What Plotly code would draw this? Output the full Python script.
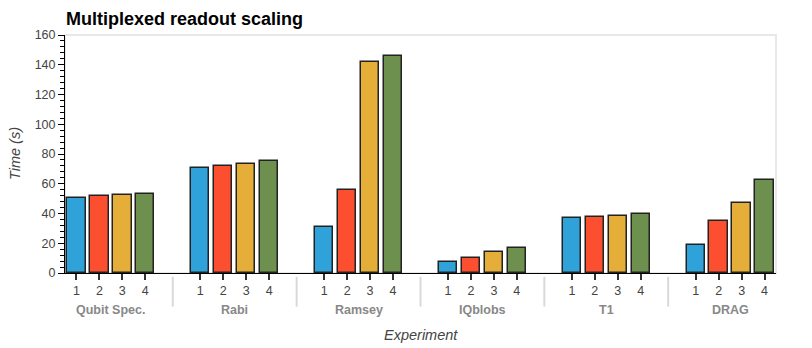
import plotly.graph_objects as go

experiments = ["Qubit Spec.", "Rabi", "Ramsey", "IQblobs", "T1", "DRAG"]
qubit_counts = ["1", "2", "3", "4"]
times_1 = [50.2, 70.3, 31.0, 7.2, 36.8, 18.6]
times_2 = [51.6, 71.7, 56.0, 10.3, 37.8, 35.2]
times_3 = [52.2, 73.2, 141.7, 13.9, 38.2, 47.0]
times_4 = [53.1, 75.2, 146.0, 17.0, 39.5, 62.7]
series = [times_1, times_2, times_3, times_4]
colors = ["#30a2da", "#fc4f30", "#e5ae38", "#6d904f"]
y_ticks = list(range(0, 161, 20))

group_pad = 1.4
n_sub = len(qubit_counts)
step = n_sub + group_pad

fig = go.Figure()
for s, vals in enumerate(series):
    xs = [g * step + s for g in range(len(experiments))]
    fig.add_trace(go.Bar(
        x=xs, y=vals, width=0.8,
        marker=dict(color=colors[s], line=dict(color="#222222", width=1.5)),
        showlegend=False, hoverinfo="y",
    ))

tickvals = [g * step + s for g in range(len(experiments)) for s in range(n_sub)]
ticktext = [qubit_counts[s] for g in range(len(experiments)) for s in range(n_sub)]

x_max = (len(experiments) - 1) * step + n_sub - 1 + 0.5

fig.update_layout(
    width=812, height=348,
    margin=dict(l=65, r=36, t=35, b=75),
    plot_bgcolor="white", paper_bgcolor="white",
    bargap=0,
    font=dict(family="Liberation Sans, Arial, sans-serif", color="#444444", size=12),
    xaxis=dict(
        range=[-0.5, x_max], tickvals=tickvals, ticktext=ticktext,
        showline=True, linecolor="black", linewidth=1,
        ticks="outside", ticklen=6, tickcolor="#333333", tickwidth=1.5,
        showgrid=False, zeroline=False, fixedrange=True,
        tickfont=dict(size=12.5, color="#444444"),
    ),
    yaxis=dict(
        range=[0, 160], tickvals=y_ticks,
        showline=True, linecolor="black", linewidth=1,
        ticks="outside", ticklen=6, tickcolor="black", tickwidth=1,
        showgrid=False, zeroline=False,
        tickfont=dict(size=12.5, color="#444444"),
        minor=dict(dtick=4, ticks="outside", ticklen=4, tickcolor="black", showgrid=False),
    ),
)

shapes = [dict(type="rect", xref="paper", yref="paper", x0=0, x1=1, y0=0, y1=1,
               line=dict(color="#e8e8e8", width=2), layer="below")]
for g in range(len(experiments) - 1):
    xd = g * step + n_sub - 1 + 0.5 + group_pad / 2
    shapes.append(dict(type="line", xref="x", yref="paper", x0=xd, x1=xd,
                       y0=-0.016, y1=-0.141, line=dict(color="#d9d9d9", width=2)))
fig.update_layout(shapes=shapes)

annotations = []
for g, name in enumerate(experiments):
    annotations.append(dict(
        x=g * step + (n_sub - 1) / 2, y=-0.157, xref="x", yref="paper",
        text="<b>" + name + "</b>", showarrow=False,
        font=dict(size=12.5, color="#888888"), xanchor="center", yanchor="middle",
    ))
annotations.append(dict(
    x=0.5, y=-0.26, xref="paper", yref="paper", text="<i>Experiment</i>",
    showarrow=False, font=dict(size=14.5, color="#444444"), xanchor="center", yanchor="middle",
))
annotations.append(dict(
    x=-50 / 711, y=0.5, xref="paper", yref="paper", text="<i>Time (s)</i>", textangle=-90,
    showarrow=False, font=dict(size=14.5, color="#444444"), xanchor="center", yanchor="middle",
))
annotations.append(dict(
    x=0, y=1.0, xref="paper", yref="paper", text="<b>Multiplexed readout scaling</b>",
    showarrow=False, font=dict(size=18, color="black"), xanchor="left", yanchor="bottom",
    xshift=-1, yshift=4,
))
fig.update_layout(annotations=annotations)

fig.write_html("out.html")
